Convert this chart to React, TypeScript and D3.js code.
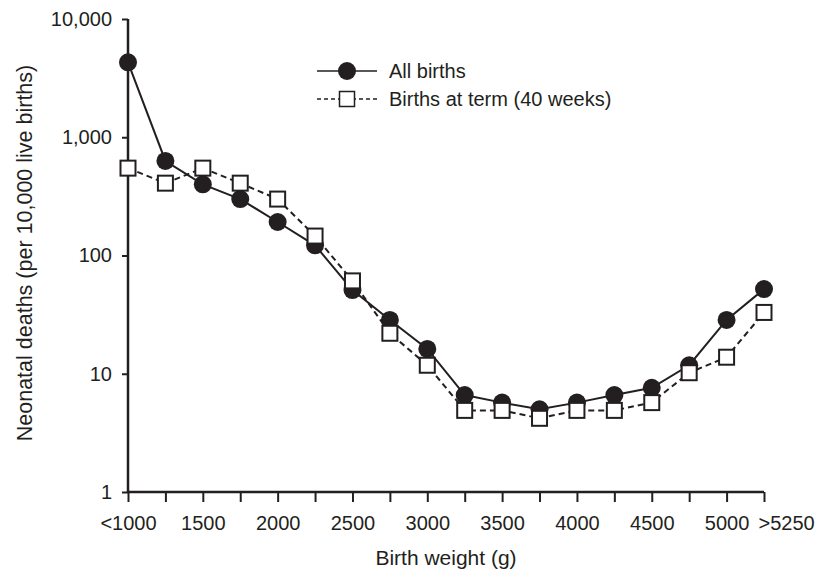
import * as d3 from 'd3';
import React, { useRef, useEffect } from 'react';

// birth weight categories (g)
const categories = ["<1000", "1250", "1500", "1750", "2000", "2250", "2500", "2750", "3000",
  "3250", "3500", "3750", "4000", "4250", "4500", "4750", "5000", ">5250"];
// which categories carry a tick label
const labelled = ["<1000", "1500", "2000", "2500", "3000", "3500", "4000", "4500", "5000", ">5250"];
// neonatal deaths per 10,000 live births
const allBirths = [4300, 630, 400, 300, 192, 122, 51, 28.5, 16.2, 6.6, 5.7, 5.0, 5.7, 6.6, 7.6, 11.8, 28.5, 52];
const termBirths = [548, 409, 548, 409, 300, 146, 61, 22, 11.8, 4.9, 4.9, 4.2, 4.9, 4.9, 5.7, 10.2, 13.8, 33];
const yTicks = [1, 10, 100, 1000, 10000];

const INK = "#231f20";
const FONT = "'Liberation Sans', Arial, Helvetica, sans-serif";

function App() {
  const ref = useRef<SVGSVGElement>(null);

  useEffect(() => {
    const width = 819;
    const height = 572;
    const left = 128, right = 764, top = 19, bottom = 492;

    const svg = d3.select(ref.current);
    svg.selectAll("*").remove();

    const x = d3.scalePoint<string>().domain(categories).range([left, right]);
    const y = d3.scaleLog().domain([1, 10000]).range([bottom, top]);

    // y axis
    const yAxis = svg.append("g")
      .attr("transform", `translate(${left},0)`)
      .call(d3.axisLeft(y).tickValues(yTicks).tickSize(6).tickPadding(10)
        .tickFormat(d => d3.format(",")(d as number)));
    // x axis
    const xAxis = svg.append("g")
      .attr("transform", `translate(0,${bottom})`)
      .call(d3.axisBottom(x).tickSize(10).tickPadding(14)
        .tickFormat(d => labelled.includes(d) ? d : ""));

    [yAxis, xAxis].forEach(g => {
      g.select(".domain").attr("stroke", INK).attr("stroke-width", 2.5);
      g.selectAll(".tick line").attr("stroke", INK).attr("stroke-width", 2);
      g.selectAll("text").attr("fill", INK).style("font-family", FONT).style("font-size", "20px");
    });
    // last label sits to the right of its tick, as in the original
    xAxis.selectAll<SVGTextElement, string>(".tick text")
      .filter(d => d === ">5250")
      .attr("text-anchor", "start").attr("x", -6);
    // remove outer tick stubs on the domain path
    yAxis.select(".domain").attr("d", `M0,${top}V${bottom}`);
    xAxis.select(".domain").attr("d", `M${left},0H${right}`);

    // axis titles
    svg.append("text")
      .attr("x", (left + right) / 2).attr("y", 565)
      .attr("text-anchor", "middle")
      .attr("fill", INK).style("font-family", FONT).style("font-size", "21px")
      .text("Birth weight (g)");
    svg.append("text")
      .attr("transform", `translate(32,253) rotate(-90)`)
      .attr("text-anchor", "middle")
      .attr("fill", INK).style("font-family", FONT).style("font-size", "21.5px")
      .text("Neonatal deaths (per 10,000 live births)");

    const line = d3.line<number>()
      .x((d, i) => x(categories[i]) as number)
      .y(d => y(d));

    // term births (dashed, open squares)
    svg.append("path")
      .datum(termBirths)
      .attr("d", line)
      .attr("fill", "none").attr("stroke", INK).attr("stroke-width", 2)
      .attr("stroke-dasharray", "6,4");
    // all births (solid, filled circles)
    svg.append("path")
      .datum(allBirths)
      .attr("d", line)
      .attr("fill", "none").attr("stroke", INK).attr("stroke-width", 2);

    const sq = 15;
    svg.append("g").selectAll("circle")
      .data(allBirths)
      .enter().append("circle")
      .attr("cx", (d, i) => x(categories[i]) as number)
      .attr("cy", d => y(d))
      .attr("r", 9)
      .attr("fill", INK);
    svg.append("g").selectAll("rect")
      .data(termBirths)
      .enter().append("rect")
      .attr("x", (d, i) => (x(categories[i]) as number) - sq / 2)
      .attr("y", d => y(d) - sq / 2)
      .attr("width", sq).attr("height", sq)
      .attr("fill", "white").attr("stroke", INK).attr("stroke-width", 2);

    // legend
    const lg = svg.append("g");
    lg.append("line").attr("x1", 317).attr("x2", 377).attr("y1", 71).attr("y2", 71)
      .attr("stroke", INK).attr("stroke-width", 1.5);
    lg.append("circle").attr("cx", 347).attr("cy", 71).attr("r", 9).attr("fill", INK);
    lg.append("text").attr("x", 389).attr("y", 71).attr("dy", "0.35em")
      .attr("fill", INK).style("font-family", FONT).style("font-size", "20px")
      .text("All births");
    lg.append("line").attr("x1", 317).attr("x2", 377).attr("y1", 99).attr("y2", 99)
      .attr("stroke", INK).attr("stroke-width", 1.5).attr("stroke-dasharray", "4,3");
    lg.append("rect").attr("x", 347 - sq / 2).attr("y", 99 - sq / 2)
      .attr("width", sq).attr("height", sq)
      .attr("fill", "white").attr("stroke", INK).attr("stroke-width", 1.5);
    lg.append("text").attr("x", 389).attr("y", 99).attr("dy", "0.35em")
      .attr("fill", INK).style("font-family", FONT).style("font-size", "20px")
      .text("Births at term (40 weeks)");

    svg.attr("width", width).attr("height", height);
  }, []);

  return (
    <svg ref={ref} width={819} height={572}
      style={{ position: "absolute", left: 0, top: 0, background: "white" }}></svg>
  );
}

export default App;
